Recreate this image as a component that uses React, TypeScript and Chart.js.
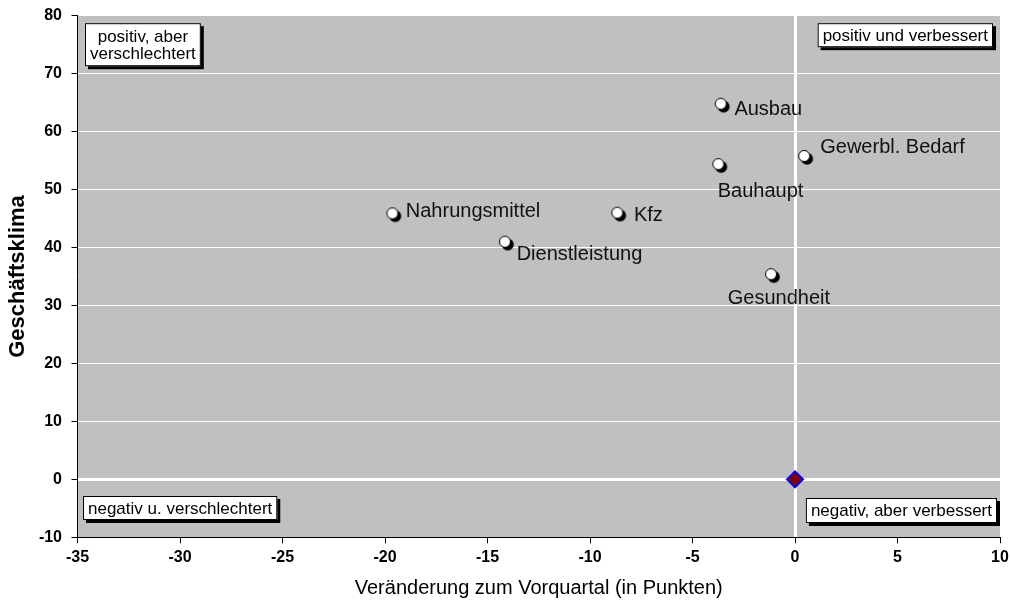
import React, { useEffect, useRef } from "react";
import { Chart, registerables } from "chart.js";

Chart.register(...registerables);

const categories = ["Ausbau", "Gewerbl. Bedarf", "Bauhaupt", "Nahrungsmittel", "Kfz", "Dienstleistung", "Gesundheit"];
const changeValues = [-3.62, 0.45, -3.74, -19.64, -8.67, -14.15, -1.17];
const climateValues = [64.8, 55.8, 54.4, 45.9, 46.0, 41.0, 35.4];
const originPoint = [{ x: 0, y: 0 }];
const quadrantTexts = {
  topLeft: ["positiv, aber", "verschlechtert"],
  topRight: ["positiv und verbessert"],
  bottomLeft: ["negativ u. verschlechtert"],
  bottomRight: ["negativ, aber verbessert"],
};
const xTitle = "Veränderung zum Vorquartal (in Punkten)";
const yTitle = "Geschäftsklima";

// label placement relative to each point (dx, dy baseline)
const labelOffsets = [
  [13.6, 11],
  [16, -2.7],
  [-0.6, 33],
  [13.4, 4],
  [16.7, 8.3],
  [11.7, 18.3],
  [-43.3, 30],
];

const FONT = "'Liberation Sans', Arial, sans-serif";

function makeMarker(): HTMLCanvasElement {
  const c = document.createElement("canvas");
  c.width = 24;
  c.height = 24;
  const g = c.getContext("2d")!;
  g.fillStyle = "#000";
  g.beginPath();
  g.arc(14.8, 14.8, 6, 0, Math.PI * 2);
  g.fill();
  g.fillStyle = "#fff";
  g.strokeStyle = "#000";
  g.lineWidth = 1;
  g.beginPath();
  g.arc(12, 12, 5.5, 0, Math.PI * 2);
  g.fill();
  g.stroke();
  return c;
}

function drawBox(ctx: CanvasRenderingContext2D, lines: string[], x: number, y: number, anchorRight: boolean, h: number) {
  ctx.save();
  ctx.font = `17px ${FONT}`;
  let w = 0;
  for (const l of lines) w = Math.max(w, ctx.measureText(l).width);
  w += 10;
  const left = anchorRight ? x - w : x;
  ctx.fillStyle = "#000";
  ctx.fillRect(left + 3, y + 3, w, h);
  ctx.fillStyle = "#fff";
  ctx.fillRect(left, y, w, h);
  ctx.strokeStyle = "#000";
  ctx.lineWidth = 1;
  ctx.strokeRect(left + 0.5, y + 0.5, w - 1, h - 1);
  ctx.fillStyle = "#000";
  ctx.textAlign = "center";
  ctx.textBaseline = "middle";
  const lh = 17;
  const startY = y + h / 2 - ((lines.length - 1) * lh) / 2 + 1;
  lines.forEach((l, i) => ctx.fillText(l, left + w / 2, startY + i * lh));
  ctx.restore();
}

const plotPlugin = {
  id: "plotDecor",
  beforeDraw(chart: any) {
    const { ctx, chartArea: a } = chart;
    ctx.save();
    ctx.fillStyle = "#C0C0C0";
    ctx.fillRect(a.left, a.top, a.right - a.left, a.bottom - a.top);
    ctx.restore();
  },
  afterDatasetsDraw(chart: any) {
    const { ctx, chartArea: a } = chart;
    const meta = chart.getDatasetMeta(0);
    ctx.save();
    ctx.font = `20px ${FONT}`;
    ctx.fillStyle = "#111";
    ctx.textAlign = "left";
    ctx.textBaseline = "alphabetic";
    meta.data.forEach((el: any, i: number) => {
      const [dx, dy] = labelOffsets[i];
      ctx.fillText(categories[i], el.x + dx, el.y + dy);
    });
    ctx.restore();
    drawBox(ctx, quadrantTexts.topLeft, a.left + 7.5, a.top + 7.5, false, 43);
    drawBox(ctx, quadrantTexts.topRight, a.right - 7, a.top + 7.5, true, 24);
    drawBox(ctx, quadrantTexts.bottomLeft, a.left + 5.5, a.bottom - 41.3, false, 24);
    drawBox(ctx, quadrantTexts.bottomRight, a.right - 3, a.bottom - 39.3, true, 25);
  },
};

export default function App() {
  const ref = useRef<HTMLCanvasElement>(null);
  useEffect(() => {
    if (!ref.current) return;
    const marker = makeMarker();
    const chart = new Chart(ref.current, {
      type: "scatter",
      data: {
        datasets: [
          {
            data: changeValues.map((x, i) => ({ x, y: climateValues[i] })),
            pointStyle: marker as any,
            pointRadius: 6,
          },
          {
            data: originPoint,
            pointStyle: "rectRot",
            pointRadius: 8,
            backgroundColor: "#800000",
            borderColor: "#0000FF",
            borderWidth: 2,
          },
        ],
      },
      options: {
        animation: false,
        responsive: false,
        devicePixelRatio: 1,
        layout: { padding: { top: 15.7, right: 10, left: 0, bottom: 0 } },
        plugins: { legend: { display: false }, tooltip: { enabled: false } },
        scales: {
          x: {
            type: "linear",
            min: -35,
            max: 10,
            afterFit: (s: any) => {
              s.height = 63.7;
              s.paddingLeft = 0;
              s.paddingRight = 0;
            },
            ticks: {
              stepSize: 5,
              color: "#000",
              padding: 5,
              font: { family: FONT, size: 16, weight: "bold" },
            },
            grid: {
              color: (c: any) => (c.tick && c.tick.value === 0 ? "#FFFFFF" : "rgba(0,0,0,0)"),
              lineWidth: (c: any) => (c.tick && c.tick.value === 0 ? 3 : 1),
              tickColor: "#000",
              tickWidth: 1,
              tickLength: 6,
            },
            border: { color: "#000", width: 1 },
            title: {
              display: true,
              text: xTitle,
              color: "#000",
              font: { family: FONT, size: 20 },
              padding: { top: 0, bottom: 1 },
            },
          },
          y: {
            type: "linear",
            min: -10,
            max: 80,
            afterFit: (s: any) => {
              s.width = 77.5;
              s.paddingTop = 0;
              s.paddingBottom = 0;
            },
            ticks: {
              stepSize: 10,
              color: "#000",
              padding: 9.5,
              font: { family: FONT, size: 16, weight: "bold" },
            },
            grid: {
              color: "#FFFFFF",
              lineWidth: (c: any) => (c.tick && c.tick.value === 0 ? 3 : 1),
              tickColor: "#000",
              tickWidth: 1,
              tickLength: 6,
            },
            border: { color: "#000", width: 1 },
            title: {
              display: true,
              text: yTitle,
              color: "#000",
              font: { family: FONT, size: 22, weight: "bold" },
              padding: { top: 5, bottom: 0 },
            },
          },
        },
      },
      plugins: [plotPlugin],
    });
    return () => chart.destroy();
  }, []);
  return (
    <div style={{ position: "fixed", left: 0, top: 0, width: 1010, height: 601, background: "#fff" }}>
      <canvas ref={ref} width={1010} height={601} style={{ width: 1010, height: 601, display: "block" }} />
    </div>
  );
}
